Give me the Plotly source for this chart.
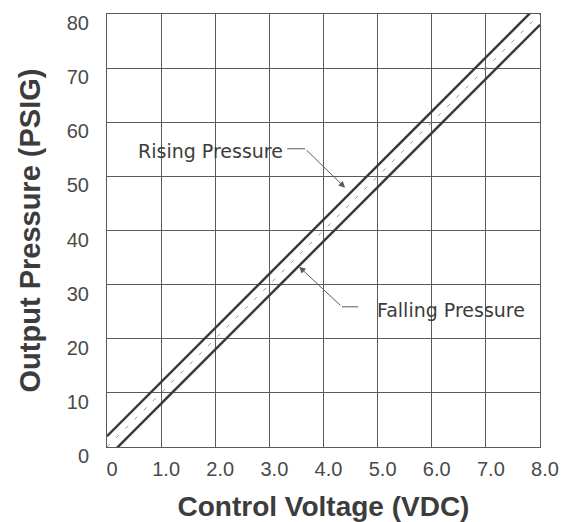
import plotly.graph_objects as go

# Control voltage (VDC) vs output pressure (PSIG)
voltage = [0, 1, 2, 3, 4, 5, 6, 7, 8]
rising_pressure = [2, 12, 22, 32, 42, 52, 62, 72, 82]
falling_pressure = [-2, 8, 18, 28, 38, 48, 58, 68, 78]
nominal_pressure = [0, 10, 20, 30, 40, 50, 60, 70, 80]

x_ticks = [0, 1, 2, 3, 4, 5, 6, 7, 8]
x_tick_labels = ["0", "1.0", "2.0", "3.0", "4.0", "5.0", "6.0", "7.0", "8.0"]
y_ticks = [0, 10, 20, 30, 40, 50, 60, 70, 80]

LINE = "#3a3a3a"
GRID = "#5a5a5a"
TEXT = "#3c3c3c"

fig = go.Figure()
fig.add_trace(go.Scatter(x=voltage, y=nominal_pressure, mode="lines",
                         line=dict(color="#9a9a9a", width=1, dash="4px,9px")))
fig.add_trace(go.Scatter(x=voltage, y=rising_pressure, mode="lines",
                         line=dict(color=LINE, width=2.5)))
fig.add_trace(go.Scatter(x=voltage, y=falling_pressure, mode="lines",
                         line=dict(color=LINE, width=2.5)))

label_font = dict(family="DejaVu Sans", size=19, color=TEXT)

# leader lines: short horizontal piece, then an arrow onto the curve
fig.add_shape(type="line", xref="x", yref="y", x0=3.33, y0=55.1, x1=3.66, y1=55.1,
              line=dict(color=GRID, width=1))
fig.add_shape(type="line", xref="x", yref="y", x0=4.34, y0=25.9, x1=4.64, y1=25.9,
              line=dict(color=GRID, width=1))

fig.add_annotation(x=3.28, y=54.6, xref="x", yref="y", text="Rising Pressure",
                   showarrow=False, xanchor="right", yanchor="middle", font=label_font)
fig.add_annotation(x=4.96, y=25.3, xref="x", yref="y", text="Falling Pressure",
                   showarrow=False, xanchor="left", yanchor="middle", font=label_font)
fig.add_annotation(x=4.40, y=47.9, ax=3.66, ay=55.1, xref="x", yref="y",
                   axref="x", ayref="y", text="", showarrow=True, arrowhead=2,
                   arrowsize=1.3, arrowwidth=1, arrowcolor=GRID)
fig.add_annotation(x=3.55, y=33.3, ax=4.34, ay=25.9, xref="x", yref="y",
                   axref="x", ayref="y", text="", showarrow=True, arrowhead=2,
                   arrowsize=1.3, arrowwidth=1, arrowcolor=GRID)

# page body adds an 8px offset, so the figure is 8px smaller each way
fig.update_layout(
    width=560,
    height=514,
    paper_bgcolor="white",
    plot_bgcolor="white",
    showlegend=False,
    margin=dict(l=99, r=28, t=6, b=75),
    font=dict(family="Liberation Sans, Arial, sans-serif", color=TEXT),
    xaxis=dict(
        range=[0, 8], tickvals=x_ticks, ticktext=x_tick_labels,
        showgrid=True, gridcolor=GRID, gridwidth=1, zeroline=False,
        showline=True, linecolor=GRID, linewidth=1, mirror=True,
        automargin=False,
        ticks="", ticklabelstandoff=4, ticklabelshift=5,
        tickfont=dict(size=20, color="#4a4a4a"),
        title=dict(text="<b>Control Voltage (VDC)</b>", standoff=21,
                   font=dict(size=28, color=TEXT)),
    ),
    yaxis=dict(
        range=[0, 80], tickvals=y_ticks,
        showgrid=True, gridcolor=GRID, gridwidth=1, zeroline=False,
        showline=True, linecolor=GRID, linewidth=1, mirror=True,
        automargin=False,
        ticks="", ticklabelstandoff=13, ticklabelshift=9,
        tickfont=dict(size=20, color="#4a4a4a"),
        title=dict(text="<b>Output Pressure (PSIG)</b>", standoff=17,
                   font=dict(size=29, color=TEXT)),
    ),
)

fig.write_html("out.html")
